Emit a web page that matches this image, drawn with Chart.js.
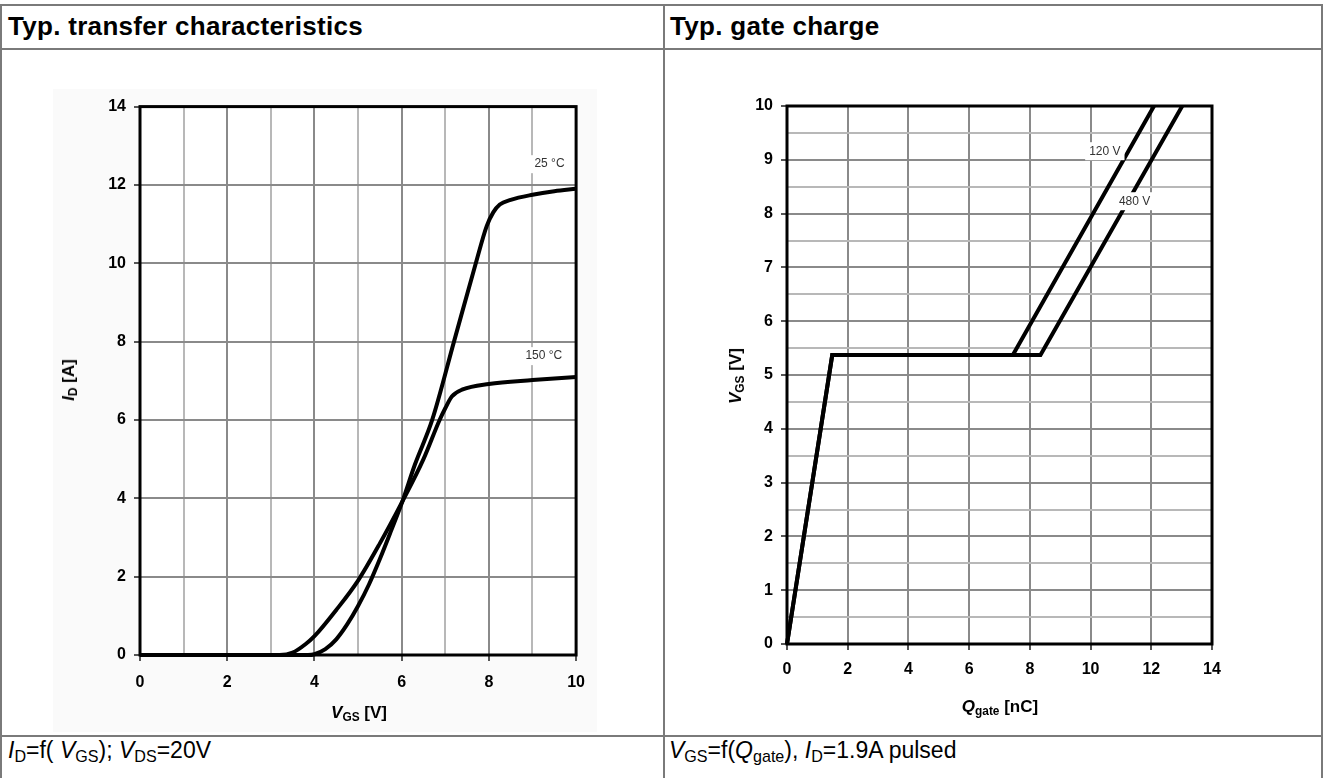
<!DOCTYPE html>
<html>
<head>
<meta charset="utf-8">
<script src="https://cdn.jsdelivr.net/npm/chart.js@4"></script>
<style>
  body { margin: 0; background: #fff; font-family: "Liberation Sans", Arial, sans-serif; }
  #page { position: relative; width: 1325px; height: 778px; overflow: hidden; }
  .hl { position: absolute; height: 2px; background: #7a7a7a; }
  .vl { position: absolute; width: 2px; background: #7a7a7a; }
  .head { position: absolute; top: 11px; font-weight: bold; font-size: 26px; line-height: 30px; letter-spacing: 0.3px; white-space: nowrap; }
  .foot { position: absolute; top: 737px; font-size: 23px; line-height: 27px; white-space: nowrap; }
  .ax { position: absolute; font-weight: bold; font-size: 17px; white-space: nowrap; transform: translate(-50%, -50%); }
  .ax.rot { transform: translate(-50%, -50%) rotate(-90deg); }
  sub { font-size: 0.7em; vertical-align: -0.25em; line-height: 0; }
  canvas { position: absolute; }
</style>
</head>
<body>
<div id="page">
  <div class="hl" style="left:0;top:4px;width:1323px"></div>
  <div class="hl" style="left:0;top:48px;width:1323px"></div>
  <div class="hl" style="left:0;top:735px;width:1323px"></div>
  <div class="vl" style="left:0;top:4px;height:774px"></div>
  <div class="vl" style="left:663px;top:4px;height:774px"></div>
  <div class="vl" style="left:1321px;top:4px;height:774px"></div>

  <div class="head" style="left:8px">Typ. transfer characteristics</div>
  <div class="head" style="left:670px">Typ. gate charge</div>

  <canvas id="transfer" width="544" height="643" style="left:53px;top:89px;background:#fafafa"></canvas>
  <canvas id="gate" width="650" height="675" style="left:670px;top:55px"></canvas>

  <div class="ax rot" style="left:69px;top:380px"><i>I</i><sub>D</sub> [A]</div>
  <div class="ax" style="left:359px;top:713px"><i>V</i><sub>GS</sub> [V]</div>
  <div class="ax rot" style="left:736px;top:376px"><i>V</i><sub>GS</sub> [V]</div>
  <div class="ax" style="left:1000px;top:707px"><i>Q</i><sub>gate</sub> [nC]</div>

  <div class="foot" style="left:8px"><i>I</i><sub>D</sub>=f( <i>V</i><sub>GS</sub>); <i>V</i><sub>DS</sub>=20V</div>
  <div class="foot" style="left:669px"><i>V</i><sub>GS</sub>=f(<i>Q</i><sub>gate</sub>), <i>I</i><sub>D</sub>=1.9A pulsed</div>
</div>

<script>
// Typ. transfer characteristics: I_D [A] vs V_GS [V]
const vgs25 = [0, 3.5, 3.85, 4.0, 4.25, 4.5, 4.75, 5.0, 5.25, 5.5, 5.75, 6.02, 6.3, 6.7, 7.2, 7.7, 7.95, 8.1, 8.25, 8.5, 9.0, 9.5, 10];
const id25 = [0, 0, 0, 0.02, 0.15, 0.4, 0.78, 1.25, 1.8, 2.45, 3.15, 3.93, 4.85, 6.0, 8.0, 10.0, 10.95, 11.3, 11.5, 11.62, 11.75, 11.84, 11.9];
const vgs150 = [0, 3.2, 3.5, 3.8, 4.0, 4.5, 5.0, 5.5, 6.02, 6.5, 6.87, 7.0, 7.15, 7.4, 8.0, 9.0, 10];
const id150 = [0, 0, 0.06, 0.28, 0.48, 1.15, 1.9, 2.85, 3.93, 5.0, 6.0, 6.3, 6.6, 6.78, 6.92, 7.02, 7.1];
const transferXGrid = [0, 1, 2, 3, 4, 5, 6, 7, 8, 9, 10];
const transferXLabels = [0, 2, 4, 6, 8, 10];
const transferYTicks = [0, 2, 4, 6, 8, 10, 12, 14];

// Typ. gate charge: V_GS [V] vs Q_gate [nC]
const qgate120 = [0, 1.49, 7.44, 12.09];
const vgs120 = [0, 5.37, 5.37, 10];
const qgate480 = [0, 1.49, 8.35, 13.02];
const vgs480 = [0, 5.37, 5.37, 10];
const gateXTicks = [0, 2, 4, 6, 8, 10, 12, 14];
const gateYGrid = [0, 0.5, 1, 1.5, 2, 2.5, 3, 3.5, 4, 4.5, 5, 5.5, 6, 6.5, 7, 7.5, 8, 8.5, 9, 9.5, 10];
const gateYLabels = [0, 1, 2, 3, 4, 5, 6, 7, 8, 9, 10];

const tickFont = { family: '"Liberation Sans", Arial, sans-serif', size: 16, weight: 'bold' };
const major = '#8a8a8a';
const minor = '#b8b8b8';

const frame = {
  id: 'frame',
  beforeDraw(chart) {
    const { ctx, chartArea: a } = chart;
    ctx.save();
    ctx.fillStyle = '#fff';
    ctx.fillRect(a.left, a.top, a.right - a.left, a.bottom - a.top);
    ctx.restore();
  },
  afterDatasetsDraw(chart, args, opts) {
    const { ctx, chartArea: a } = chart;
    ctx.save();
    ctx.strokeStyle = '#000';
    ctx.lineWidth = 3;
    ctx.strokeRect(a.left, a.top, a.right - a.left, a.bottom - a.top);
    ctx.font = '12px "Liberation Sans", Arial, sans-serif';
    ctx.textAlign = 'center';
    ctx.textBaseline = 'middle';
    (opts.labels || []).forEach(l => {
      const x = chart.scales.x.getPixelForValue(l.x);
      const y = chart.scales.y.getPixelForValue(l.y);
      const w = ctx.measureText(l.text).width + 8;
      ctx.fillStyle = '#fff';
      ctx.fillRect(x - w / 2, y - 9, w, 18);
      ctx.fillStyle = '#333';
      ctx.fillText(l.text, x, y);
    });
    ctx.restore();
  }
};

function pts(xs, ys) {
  return xs.map((v, i) => ({ x: v, y: ys[i] }));
}

function curve(xs, ys, smooth) {
  return {
    data: pts(xs, ys),
    showLine: true,
    borderColor: '#000',
    borderWidth: 4,
    pointRadius: 0,
    cubicInterpolationMode: smooth ? 'monotone' : 'default',
    tension: 0,
    clip: false
  };
}

new Chart(document.getElementById('transfer'), {
  type: 'scatter',
  data: {
    datasets: [curve(vgs25, id25, true), curve(vgs150, id150, true)]
  },
  options: {
    responsive: false,
    animation: false,
    layout: { padding: { top: 16, right: 12, left: 0, bottom: 0 } },
    plugins: {
      legend: { display: false },
      tooltip: { enabled: false },
      frame: {
        labels: [
          { x: 9.39, y: 12.53, text: '25 °C' },
          { x: 9.26, y: 7.63, text: '150 °C' }
        ]
      }
    },
    scales: {
      x: {
        type: 'linear', min: 0, max: 10,
        afterBuildTicks: s => { s.ticks = transferXGrid.map(v => ({ value: v })); },
        afterFit: s => { s.height = 77; },
        border: { display: false },
        grid: {
          lineWidth: 2, tickLength: 6,
          color: c => transferXLabels.includes(c.tick.value) ? major : minor,
          tickColor: c => transferXLabels.includes(c.tick.value) ? '#555' : 'rgba(0,0,0,0)'
        },
        ticks: {
          font: tickFont, color: '#000', padding: 12, maxRotation: 0, autoSkip: false,
          callback: v => transferXLabels.includes(v) ? v : ''
        }
      },
      y: {
        type: 'linear', min: 0, max: 14,
        afterBuildTicks: s => { s.ticks = transferYTicks.map(v => ({ value: v })); },
        afterFit: s => { s.width = 87; },
        border: { display: false },
        grid: { lineWidth: 2, tickLength: 6, color: major, tickColor: '#555' },
        ticks: { font: tickFont, color: '#000', padding: 8 }
      }
    }
  },
  plugins: [frame]
});

new Chart(document.getElementById('gate'), {
  type: 'scatter',
  data: {
    datasets: [curve(qgate120, vgs120, false), curve(qgate480, vgs480, false)]
  },
  options: {
    responsive: false,
    animation: false,
    layout: { padding: { top: 51, right: 108, left: 0, bottom: 0 } },
    plugins: {
      legend: { display: false },
      tooltip: { enabled: false },
      frame: {
        labels: [
          { x: 10.47, y: 9.16, text: '120 V' },
          { x: 11.45, y: 8.23, text: '480 V' }
        ]
      }
    },
    scales: {
      x: {
        type: 'linear', min: 0, max: 14,
        afterBuildTicks: s => { s.ticks = gateXTicks.map(v => ({ value: v })); },
        afterFit: s => { s.height = 86; },
        border: { display: false },
        grid: { lineWidth: 2, tickLength: 6, color: major, tickColor: '#555' },
        ticks: { font: tickFont, color: '#000', padding: 10, maxRotation: 0, autoSkip: false }
      },
      y: {
        type: 'linear', min: 0, max: 10,
        afterBuildTicks: s => { s.ticks = gateYGrid.map(v => ({ value: v })); },
        afterFit: s => { s.width = 117; },
        border: { display: false },
        grid: {
          lineWidth: 2, tickLength: 6,
          color: c => gateYLabels.includes(c.tick.value) ? major : minor,
          tickColor: c => gateYLabels.includes(c.tick.value) ? '#555' : 'rgba(0,0,0,0)'
        },
        ticks: {
          font: tickFont, color: '#000', padding: 8, autoSkip: false,
          callback: v => gateYLabels.includes(v) ? v : ''
        }
      }
    }
  },
  plugins: [frame]
});
</script>
</body>
</html>
